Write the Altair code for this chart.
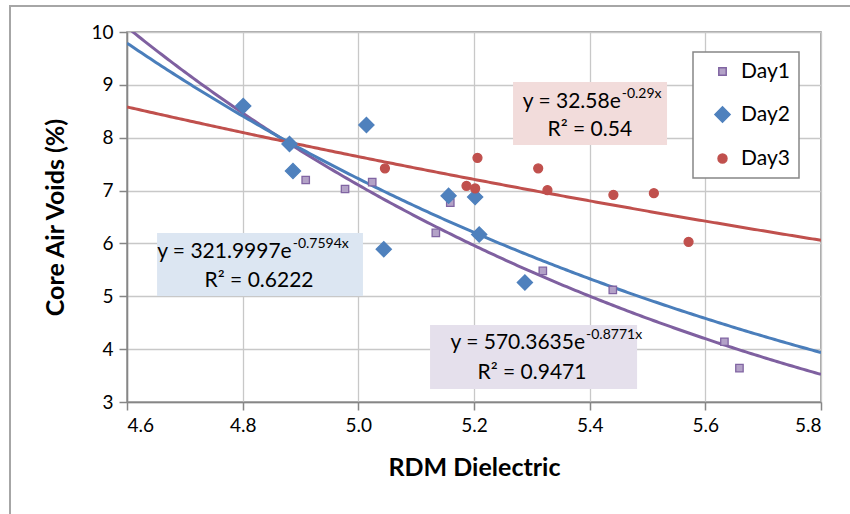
import altair as alt
import numpy as np
import pandas as pd

# ---- measured data ----
day1_x = [4.909, 4.977, 5.024, 5.134, 5.159, 5.319, 5.440, 5.633, 5.659]
day1_y = [7.20, 7.03, 7.16, 6.20, 6.77, 5.48, 5.12, 4.14, 3.64]

day2_x = [4.801, 4.881, 4.887, 5.014, 5.044, 5.156, 5.202, 5.209, 5.288]
day2_y = [8.60, 7.88, 7.37, 8.24, 5.89, 6.90, 6.88, 6.17, 5.26]

day3_x = [5.046, 5.187, 5.202, 5.206, 5.311, 5.327, 5.441, 5.511, 5.571]
day3_y = [7.42, 7.09, 7.04, 7.62, 7.42, 7.01, 6.92, 6.95, 6.03]

series = ["Day1", "Day2", "Day3"]
line_colors = ["#7f60a0", "#4a7ebb", "#c0504d"]

# exponential fits y = a * exp(b x)
fit_a = [570.3635, 321.9997, 32.58]
fit_b = [-0.8771, -0.7594, -0.29]
fit_a_text = ["570.3635", "321.9997", "32.58"]
fit_b_text = ["-0.8771x", "-0.7594x", "-0.29x"]
fit_r2_text = ["0.9471", "0.6222", "0.54"]

# label boxes (data coordinates): x, x2, y, y2
box_x = [5.124, 4.652, 5.2675]
box_x2 = [5.482, 5.008, 5.5338]
box_y = [4.457, 6.197, 9.054]
box_y2 = [3.246, 5.006, 7.862]
box_fill = ["#e5e0ec", "#dce6f2", "#f2dcdb"]
# anchor of the exponent (left edge) and equation line height
eq_x = [5.392, 4.8848, 5.4537]
eq_y = [4.111, 5.844, 8.681]
# centre of the R² line
r2_x = [5.3003, 4.8283, 5.4002]
r2_y = [3.543, 5.295, 8.146]

x_ticks = [4.6, 4.8, 5.0, 5.2, 5.4, 5.6, 5.8]
y_ticks = [3, 4, 5, 6, 7, 8, 9, 10]

FONT = "Lato"

points = pd.DataFrame({
    "x": day1_x + day2_x + day3_x,
    "y": day1_y + day2_y + day3_y,
    "series": ["Day1"] * len(day1_x) + ["Day2"] * len(day2_x) + ["Day3"] * len(day3_x),
})

xs = np.linspace(4.6, 5.8, 241)
fits = pd.concat([
    pd.DataFrame({"x": xs, "y": a * np.exp(b * xs), "series": s})
    for s, a, b in zip(series, fit_a, fit_b)
])

labels = pd.DataFrame({
    "series": series,
    "bx": box_x, "bx2": box_x2, "by": box_y, "by2": box_y2, "fill": box_fill,
    "ex": eq_x, "ey": eq_y, "rx": r2_x, "ry": r2_y,
    "eq": [f"y = {a}e" for a in fit_a_text],
    "sup": fit_b_text,
    "r2": [f"R² = {r}" for r in fit_r2_text],
})

x_scale = alt.Scale(domain=[4.6, 5.8], nice=False, zero=False)
y_scale = alt.Scale(domain=[3, 10], nice=False, zero=False)

x_enc = alt.X("x:Q", scale=x_scale, axis=alt.Axis(
    title="RDM Dielectric", values=x_ticks, format=".1f",
    titlePadding=20))
y_enc = alt.Y("y:Q", scale=y_scale, axis=alt.Axis(
    title="Core Air Voids (%)", values=y_ticks, format="d", titlePadding=22))

frame_df = pd.DataFrame({"k": [0]})
frame_top = alt.Chart(frame_df).mark_rule(color="#a6a6a6", strokeWidth=2).encode(
    x=alt.value(-117), x2=alt.value(730), y=alt.value(-26))
frame_left = alt.Chart(frame_df).mark_rule(color="#a6a6a6", strokeWidth=2).encode(
    x=alt.value(-117), y=alt.value(-27), y2=alt.value(490))

# one trend line per series, each in its own colour
fit_layers = [
    alt.Chart(fits).transform_filter(alt.datum.series == s)
    .mark_line(strokeWidth=3, clip=True, color=c)
    .encode(x=x_enc, y=y_enc)
    for s, c in zip(series, line_colors)
]

dots = alt.Chart(points).mark_point(filled=True, opacity=1, strokeWidth=1.3).encode(
    x=alt.X("x:Q", scale=x_scale),
    y=alt.Y("y:Q", scale=y_scale),
    shape=alt.Shape("series:N", title=None,
                    scale=alt.Scale(domain=series, range=["square", "diamond", "circle"])),
    fill=alt.Fill("series:N", title=None,
                  scale=alt.Scale(domain=series, range=["#b3a2c7", "#4f81bd", "#c0504d"])),
    stroke=alt.Stroke("series:N", title=None,
                      scale=alt.Scale(domain=series, range=["#8064a2", "#4f81bd", "#c0504d"])),
    size=alt.Size("series:N", title=None,
                  scale=alt.Scale(type="ordinal", domain=series, range=[55, 230, 80])),
)

base = alt.Chart(labels)
boxes = base.mark_rect().encode(
    x=alt.X("bx:Q", scale=x_scale), x2="bx2:Q",
    y=alt.Y("by:Q", scale=y_scale), y2="by2:Q",
    color=alt.Color("fill:N", scale=None),
)
eq_text = base.mark_text(font=FONT, fontSize=21, align="right", baseline="middle",
                         color="#000000").encode(
    x=alt.X("ex:Q", scale=x_scale), y=alt.Y("ey:Q", scale=y_scale), text="eq:N")
sup_text = base.mark_text(font=FONT, fontSize=14, align="left", baseline="middle",
                          dy=-8, dx=1, color="#000000").encode(
    x=alt.X("ex:Q", scale=x_scale), y=alt.Y("ey:Q", scale=y_scale), text="sup:N")
r2_text = base.mark_text(font=FONT, fontSize=21, align="center", baseline="middle",
                         color="#000000").encode(
    x=alt.X("rx:Q", scale=x_scale), y=alt.Y("ry:Q", scale=y_scale), text="r2:N")

chart = alt.layer(
    frame_top, frame_left, *fit_layers, dots, boxes, eq_text, sup_text, r2_text
).properties(
    width=694, height=370,
    autosize=alt.AutoSizeParams(type="none"),
    padding={"left": 127, "top": 32, "right": 29, "bottom": 112},
    background="#ffffff",
).configure_view(
    stroke="#8c8c8c", strokeWidth=1.5
).configure_axis(
    labelFont=FONT, labelFontSize=19, labelColor="#000000",
    titleFont=FONT, titleFontSize=25, titleFontWeight="bold", titleColor="#000000",
    gridColor="#c8c8c8", gridWidth=1.3,
    domainColor="#868686", domainWidth=1.5,
    tickColor="#868686", tickWidth=1.5, tickSize=8,
    labelPadding=6,
).configure_legend(
    orient="none", legendX=566, legendY=20,
    strokeColor="#868686", fillColor="#ffffff", strokeWidth=1.5,
    padding=9, rowPadding=21, symbolOffset=10,
    labelFont=FONT, labelFontSize=21, labelColor="#000000", labelOffset=8,
)

chart.save("out.html", embed_options={"renderer": "svg", "actions": False})
